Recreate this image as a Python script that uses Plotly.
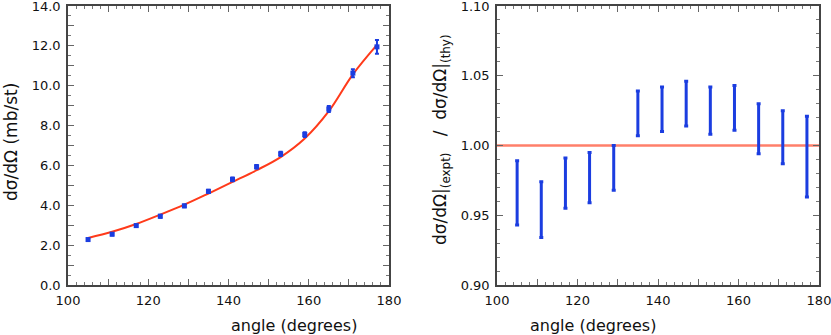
import plotly.graph_objects as go

# scattering angles (degrees)
angle = [105, 111, 117, 123, 129, 135, 141, 147, 153, 159, 165, 171, 177]

# measured cross section (mb/st) and errors
xsec = [2.28, 2.55, 2.98, 3.45, 3.97, 4.70, 5.30, 5.93, 6.58, 7.55, 8.83, 10.63, 11.95]
xsec_err = [0.05, 0.06, 0.06, 0.07, 0.07, 0.08, 0.09, 0.09, 0.11, 0.12, 0.15, 0.20, 0.35]

# theory curve
thy_angle = [105, 111, 117, 123, 129, 135, 141, 147, 153, 159, 165, 171, 177]
thy_xsec = [2.36, 2.67, 3.06, 3.53, 4.03, 4.59, 5.17, 5.76, 6.42, 7.35, 8.72, 10.57, 12.05]

# ratio expt / thy
ratio = [0.966, 0.954, 0.973, 0.977, 0.984, 1.023, 1.026, 1.030, 1.025, 1.027, 1.012, 1.006, 0.992]
ratio_err = [0.023, 0.020, 0.018, 0.018, 0.016, 0.016, 0.016, 0.016, 0.017, 0.016, 0.018, 0.019, 0.029]

blue = "#1b3de0"
red = "#ff3a1a"
font = "DejaVu Sans"
W, H = 831, 335

fig = go.Figure()

fig.add_trace(go.Scatter(
    x=thy_angle, y=thy_xsec, mode="lines",
    line=dict(color=red, width=2, shape="spline", smoothing=1.0),
    xaxis="x", yaxis="y", showlegend=False
))
fig.add_trace(go.Scatter(
    x=angle, y=xsec, mode="markers",
    marker=dict(color=blue, size=5, symbol="square"),
    error_y=dict(type="data", array=xsec_err, color=blue, thickness=2, width=2),
    xaxis="x", yaxis="y", showlegend=False
))

fig.add_trace(go.Scatter(
    x=[100, 180], y=[1.0, 1.0], mode="lines",
    line=dict(color="#ff7f6a", width=2.5),
    xaxis="x2", yaxis="y2", showlegend=False
))
fig.add_trace(go.Scatter(
    x=angle, y=ratio, mode="markers",
    marker=dict(color="rgba(0,0,0,0)", size=1),
    error_y=dict(type="data", array=ratio_err, color=blue, thickness=3, width=2),
    xaxis="x2", yaxis="y2", showlegend=False
))

xticks = list(range(100, 181, 10))
xtext = [str(v) if v % 20 == 0 else "" for v in xticks]

axis_common = dict(
    showline=True, linecolor="#444", linewidth=1.5, mirror="ticks",
    ticks="inside", ticklen=6, tickcolor="#666", tickwidth=1,
    showgrid=False, zeroline=False, fixedrange=True, automargin=False,
    ticklabeloverflow="allow", ticklabelstandoff=3,
    tickfont=dict(family=font, size=13, color="#111"),
)
minor_x = dict(dtick=2, ticklen=3, tickcolor="#777", ticks="inside", showgrid=False)

fig.update_layout(
    width=W, height=H,
    margin=dict(l=0, r=0, t=0, b=0, autoexpand=False),
    paper_bgcolor="white", plot_bgcolor="white",
    xaxis=dict(domain=[68 / W, 389 / W], range=[100, 180], anchor="y",
               tickmode="array", tickvals=xticks, ticktext=xtext,
               minor=minor_x, **axis_common),
    yaxis=dict(domain=[50 / H, 329 / H], range=[0, 14], anchor="x",
               tickmode="array", tickvals=list(range(0, 15)),
               ticktext=[f"{v:.1f}" if v % 2 == 0 else "" for v in range(0, 15)],
               minor=dict(dtick=0.5, ticklen=3, tickcolor="#777", ticks="inside", showgrid=False),
               **axis_common),
    xaxis2=dict(domain=[497 / W, 819 / W], range=[100, 180], anchor="y2",
                tickmode="array", tickvals=xticks, ticktext=xtext,
                minor=minor_x, **axis_common),
    yaxis2=dict(domain=[50 / H, 329 / H], range=[0.9, 1.1], anchor="x2",
                tickmode="array", tickvals=[0.90, 0.95, 1.00, 1.05, 1.10],
                ticktext=["0.90", "0.95", "1.00", "1.05", "1.10"],
                minor=dict(dtick=0.01, ticklen=3, tickcolor="#777", ticks="inside", showgrid=False),
                **axis_common),
)

title_font = dict(family=font, size=16, color="#111")
fig.add_annotation(x=(68 + 389) / 2 / W, y=(H - 325) / H, xref="paper", yref="paper",
                   yanchor="middle", text="angle (degrees)", showarrow=False, font=title_font)
fig.add_annotation(x=(497 + 819) / 2 / W, y=(H - 325) / H, xref="paper", yref="paper",
                   yanchor="middle", text="angle (degrees)", showarrow=False, font=title_font)
fig.add_annotation(x=11 / W, y=(H - 142) / H, xref="paper", yref="paper",
                   xanchor="center", yanchor="middle",
                   text="dσ/dΩ (mb/st)", textangle=-90, showarrow=False,
                   font=dict(family=font, size=17, color="#111"))
fig.add_annotation(x=441 / W, y=(H - 140) / H, xref="paper", yref="paper",
                   xanchor="center", yanchor="middle",
                   text="dσ/dΩ|<sub>(expt)</sub>   /  dσ/dΩ|<sub>(thy)</sub>",
                   textangle=-90, showarrow=False,
                   font=dict(family=font, size=17, color="#111"))

# the page has a default 8px body margin; drop it so the figure sits at 0,0
fig.write_html("out.html", config={"displayModeBar": False},
               post_script="document.body.style.margin='0';")
